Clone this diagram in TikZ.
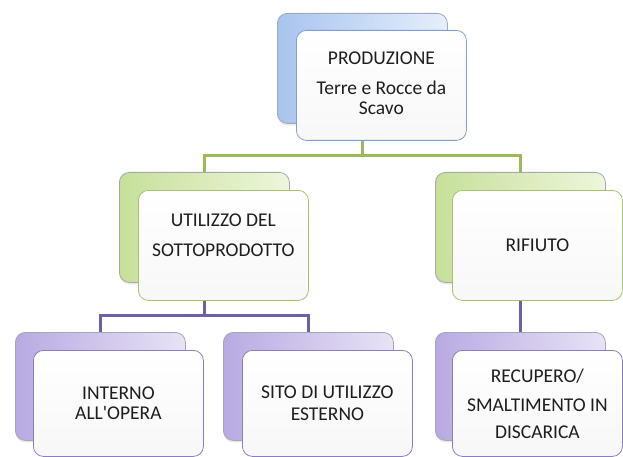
\documentclass[tikz,border=0pt]{standalone}
\usepackage{fontspec}
\setmainfont{Carlito}
\usetikzlibrary{shadows}
\definecolor{txt}{HTML}{1E1E1E}
\definecolor{bluedark}{HTML}{A8C4EE}
\definecolor{bluelight}{HTML}{E6EFFB}
\definecolor{greendark}{HTML}{C6E09A}
\definecolor{greenlight}{HTML}{EDF6DB}
\definecolor{purpdark}{HTML}{B8AAE2}
\definecolor{purplight}{HTML}{E8E3F6}
\definecolor{backborder}{HTML}{A4A7B4}
\definecolor{blueline}{HTML}{7F9FD8}
\definecolor{greenline}{HTML}{A6C46A}
\definecolor{purpline}{HTML}{8C7CC0}
\definecolor{greenconn}{HTML}{9BBB59}
\definecolor{purpconn}{HTML}{6F5EA8}
\newcommand{\sq}{{\addfontfeatures{Ligatures=TeXOff}'}}
\pgfdeclarelayer{bg}
\pgfsetlayers{bg,main}
\tikzset{
  boxbase/.style={rounded corners=10pt, inner sep=0pt, anchor=north west,
    minimum width=170pt, line width=0.8pt},
  backbox/.style={boxbase, draw=backborder, left color=#1dark, right color=#1light,
    drop shadow={shadow xshift=0pt, shadow yshift=-2pt, opacity=0.18}},
  frontbox/.style={boxbase, draw=#1line, top color=white, bottom color=black!3,
    text=txt, align=center, font=\fontsize{19.5}{21.5}\selectfont},
  tall/.style={minimum height=110pt},
  short/.style={minimum height=106pt},
  backtall/.style={minimum height=110pt},
  backshort/.style={minimum height=108pt},
  greenwire/.style={draw=greenconn, line width=3pt},
  purpwire/.style={draw=purpconn, line width=3pt},
}
\begin{document}
\begin{tikzpicture}[x=1pt,y=-1pt]
\useasboundingbox (0,0) rectangle (623,457);
% top
\node[backbox=blue, backtall] (pb) at (277,13) {};
\node[frontbox=blue, tall, text depth=4pt] (pf) at (296,30) {PRODUZIONE\\[8pt]Terre e Rocce da\\[-1pt]Scavo};
% middle
\node[backbox=green, backtall] (ub) at (119,172) {};
\node[frontbox=green, tall, text depth=20pt] (uf) at (138,190) {UTILIZZO DEL\\[8pt]SOTTOPRODOTTO};
\node[backbox=green, backtall] (rb) at (435,172) {};
\node[frontbox=green, tall] (rf) at (452,190) {RIFIUTO};
% bottom
\node[backbox=purp, backshort] (ib) at (15,332) {};
\node[frontbox=purp, short] (if) at (33,350) {INTERNO\\[-1pt]ALL\sq OPERA};
\node[backbox=purp, backshort] (sb) at (223,332) {};
\node[frontbox=purp, short] (sf) at (242,350) {SITO DI UTILIZZO\\[1pt]ESTERNO};
\node[backbox=purp, backshort] (db) at (435,332) {};
\node[frontbox=purp, short] (df) at (452,350) {RECUPERO/\\[8pt]SMALTIMENTO IN\\[5pt]DISCARICA};
% connectors
\begin{pgfonlayer}{bg}
\draw[greenwire] (pb.south) -- ++(0,32) coordinate (gj) -| (ub.north);
\draw[greenwire] (gj) -| (rb.north);
\draw[purpwire] (ub.south) -- ++(0,33) coordinate (pj) -| (ib.north);
\draw[purpwire] (pj) -| (sb.north);
\draw[purpwire] (rb.south) -- (db.north);
\end{pgfonlayer}
\end{tikzpicture}
\end{document}
